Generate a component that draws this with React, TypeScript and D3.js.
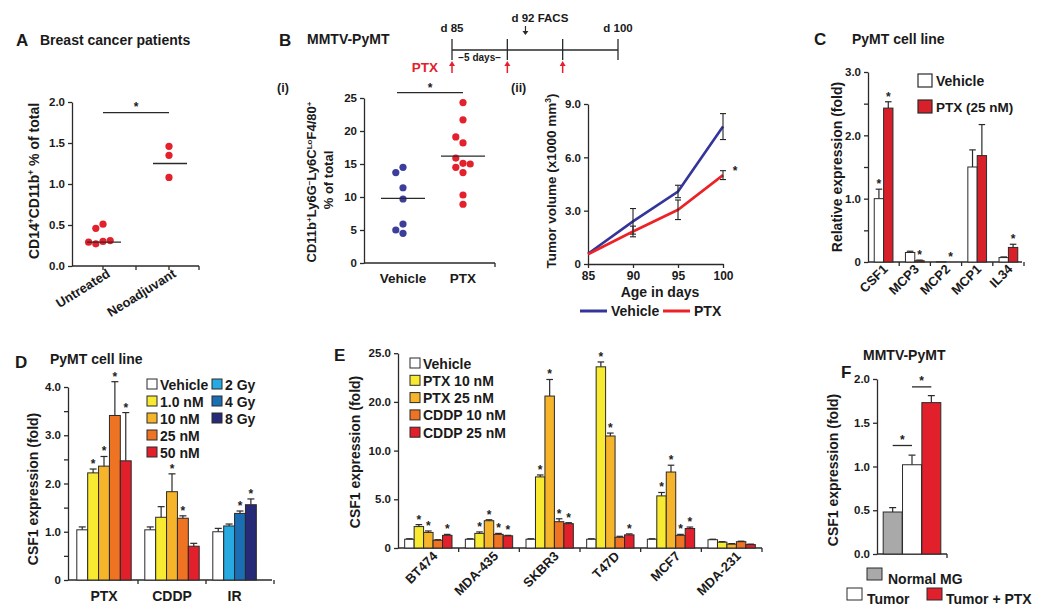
import React, { useEffect, useRef } from "react";
import { scaleLinear, scaleBand, scalePoint, select, axisLeft, axisBottom, line, range } from "d3";

const FONT = "'Liberation Sans', Arial, Helvetica, sans-serif";
const INK = "#2a2a2a";
const RED = "#e3202b";

// ---- A: breast cancer patients
const groupsA = ["Untreated", "Neoadjuvant"];
const untreatedA = [0.51, 0.46, 0.3, 0.27, 0.31, 0.29];
const neoadjuvantA = [1.46, 1.35, 1.08];
const centerLineA = [0.29, 1.25];
const ticksA = [0, 0.5, 1.0, 1.5, 2.0];

// ---- B: MMTV-PyMT
const timelineDays = [85, 90, 95, 100];
const ptxDoseDays = [85, 90, 95];
const facsDay = 92;

const groupsB = ["Vehicle", "PTX"];
const vehicleB = [14.5, 13.7, 11.4, 9.7, 5.9, 4.5, 5.0];
const ptxB = [24.3, 21.7, 18.2, 19.1, 13.7, 15.1, 15.9, 15.0, 14.5, 10.3, 8.9];
const centerLineB = [9.8, 16.2];
const ticksB = [0, 5, 10, 15, 20, 25];

const daysB = [85, 90, 95, 100];
const vehicleVol = [0.58, 2.4, 4.08, 7.73];
const vehicleVolErr = [0.05, 0.72, 0.35, 0.73];
const ptxVol = [0.55, 1.83, 3.05, 5.0];
const ptxVolErr = [0.05, 0.3, 0.55, 0.25];
const ticksVol = [0, 3, 6, 9];

// ---- C: PyMT cell line, cytokines
const genesC = ["CSF1", "MCP3", "MCP2", "MCP1", "IL34"];
const vehicleC = [1.0, 0.15, 0.005, 1.5, 0.07];
const vehicleErrC = [0.15, 0.02, 0, 0.27, 0.01];
const ptxC = [2.43, 0.02, 0.0, 1.68, 0.23];
const ptxErrC = [0.1, 0.01, 0, 0.49, 0.05];
const vehicleStarC = [true, false, false, false, false];
const ptxStarC = [true, true, true, false, true];
const ticksC = [0, 0.5, 1, 1.5, 2, 2.5, 3];
const tickLabelsC = ["0", "", "1.0", "", "2.0", "", "3.0"];

// ---- D: PyMT cell line, treatments
const groupsD = ["PTX", "CDDP", "IR"];
const doseD = ["Vehicle", "1.0 nM", "10 nM", "25 nM", "50 nM"];
const doseIR = ["Vehicle", "2 Gy", "4 Gy", "8 Gy"];
const ptxD = [1.04, 2.22, 2.36, 3.41, 2.47];
const ptxErrD = [0.06, 0.08, 0.2, 0.7, 1.0];
const ptxStarD = [false, true, true, true, true];
const cddpD = [1.04, 1.3, 1.83, 1.28, 0.7];
const cddpErrD = [0.06, 0.22, 0.37, 0.05, 0.06];
const cddpStarD = [false, false, true, true, false];
const irD = [1.0, 1.12, 1.38, 1.56];
const irErrD = [0.07, 0.04, 0.05, 0.12];
const irStarD = [false, false, true, true];
const colorsD: Record<string, string> = {
  Vehicle: "#ffffff",
  "1.0 nM": "#f8ea30",
  "10 nM": "#f6b42a",
  "25 nM": "#ee7322",
  "50 nM": "#e1202c",
  "2 Gy": "#27a9e1",
  "4 Gy": "#1b6db4",
  "8 Gy": "#262a77",
};
const ticksD = [0, 0.5, 1, 1.5, 2, 2.5, 3, 3.5, 4];
const tickLabelsD = ["0", "", "1.0", "", "2.0", "", "3.0", "", "4.0"];

// ---- E: human cell lines
const cellLinesE = ["BT474", "MDA-435", "SKBR3", "T47D", "MCF7", "MDA-231"];
const seriesE = ["Vehicle", "PTX 10 nM", "PTX 25 nM", "CDDP 10 nM", "CDDP 25 nM"];
const vehicleE = [0.9, 0.9, 0.9, 0.9, 0.9, 0.85];
const ptx10E = [2.2, 1.5, 7.3, 23.6, 5.35, 0.6];
const ptx25E = [1.6, 2.8, 20.6, 13.0, 7.8, 0.4];
const cddp10E = [0.8, 1.4, 2.7, 1.1, 1.3, 0.65];
const cddp25E = [1.3, 1.25, 2.5, 1.35, 2.0, 0.35];
const vehicleErrE = [0.05, 0.05, 0.05, 0.05, 0.05, 0.05];
const ptx10ErrE = [0.2, 0.15, 0.2, 0.5, 0.35, 0.05];
const ptx25ErrE = [0.15, 0.1, 1.7, 0.6, 0.7, 0.05];
const cddp10ErrE = [0.05, 0.1, 0.3, 0.1, 0.1, 0.05];
const cddp25ErrE = [0.1, 0.05, 0.1, 0.1, 0.15, 0.05];
const ptx10StarE = [true, true, true, true, true, false];
const ptx25StarE = [true, true, true, true, true, false];
const cddp10StarE = [false, true, true, false, true, false];
const cddp25StarE = [true, true, true, true, true, false];
const colorsE = ["#ffffff", "#f8ea30", "#f6b42a", "#ee7322", "#e1202c"];
const ticksE = [0, 5, 10, 20, 25];
const tickLabelsE = ["0", "5.0", "10.0", "20.0", "25.0"];

// ---- F: MMTV-PyMT tissue
const groupsF = ["Normal MG", "Tumor", "Tumor + PTX"];
const valuesF = [0.48, 1.02, 1.73];
const errF = [0.05, 0.11, 0.08];
const colorsF = ["#a9a9a9", "#ffffff", "#e1202c"];
const sigPairsF = [[0, 1], [1, 2]];
const sigLevelF = [1.24, 1.91];
const ticksF = [0, 0.5, 1, 1.5, 2];

// spread points of a dot plot sideways so they don't overlap
function dodge(values: number[], y: (v: number) => number, r: number) {
  const placed: number[][] = [];
  return values.map((v) => {
    const py = y(v);
    for (const k of [0, -1, 1, -2, 2, -3, 3]) {
      const px = k * 2 * r;
      if (placed.every((p) => Math.hypot(p[0] - px, p[1] - py) >= 2 * r - 0.5)) {
        placed.push([px, py]);
        return px;
      }
    }
    return 0;
  });
}

function YAxis({ scale, x, ticks, labels, size = 11.5 }: any) {
  const ref = useRef<SVGGElement>(null);
  useEffect(() => {
    const axis = axisLeft(scale)
      .tickValues(ticks)
      .tickFormat((d: any, i: number) => (labels ? labels[i] : String(d)))
      .tickSize(4)
      .tickSizeOuter(0)
      .tickPadding(3);
    const g = select(ref.current);
    g.call(axis as any);
    g.attr("font-family", FONT).attr("font-size", size).attr("font-weight", "bold");
    g.selectAll("path, line").attr("stroke", INK).attr("stroke-width", 1.3);
    g.selectAll("text").attr("fill", "#1a1a1a");
  });
  return <g ref={ref} transform={`translate(${x},0)`} />;
}

function XAxisLinear({ scale, y, ticks, size = 12 }: any) {
  const ref = useRef<SVGGElement>(null);
  useEffect(() => {
    const axis = axisBottom(scale).tickValues(ticks).tickSize(4).tickSizeOuter(0).tickPadding(3);
    const g = select(ref.current);
    g.call(axis as any);
    g.attr("font-family", FONT).attr("font-size", size).attr("font-weight", "bold");
    g.selectAll("path, line").attr("stroke", INK).attr("stroke-width", 1.3);
    g.selectAll("text").attr("fill", "#1a1a1a");
  });
  return <g ref={ref} transform={`translate(0,${y})`} />;
}

function BaseLine({ x0, x1, y, ticks }: any) {
  return (
    <g stroke={INK} strokeWidth={1.3}>
      <line x1={x0} x2={x1} y1={y} y2={y} />
      {ticks.map((t: number, i: number) => (
        <line key={i} x1={t} x2={t} y1={y} y2={y + 4} />
      ))}
    </g>
  );
}

function YLabel({ x, y, children, size = 14 }: any) {
  return (
    <text transform={`translate(${x},${y}) rotate(-90)`} textAnchor="middle" fontSize={size} fontWeight="bold" fill="#1a1a1a">
      {children}
    </text>
  );
}

function Bar({ x, w, y, v, err, star, fill }: any) {
  const top = y(v);
  const base = y(0);
  const errTop = y(v + err);
  const cx = x + w / 2;
  const cap = Math.min(3.5, w * 0.35);
  return (
    <g>
      <rect x={x} y={top} width={w} height={Math.max(0, base - top)} fill={fill} stroke={INK} strokeWidth={1} />
      {err > 0 && (
        <g stroke={INK} strokeWidth={1.2}>
          <line x1={cx} x2={cx} y1={top} y2={errTop} />
          <line x1={cx - cap} x2={cx + cap} y1={errTop} y2={errTop} />
        </g>
      )}
      {star && (
        <text x={cx} y={errTop - 1} textAnchor="middle" fontSize={12} fontWeight="bold" fill="#222">
          *
        </text>
      )}
    </g>
  );
}

function PanelA() {
  const y = scaleLinear([0, 2], [266, 102]);
  const x = scalePoint(groupsA, [103, 169]);
  const sets = [untreatedA, neoadjuvantA];
  const mid = ((x(groupsA[0]) as number) + (x(groupsA[1]) as number)) / 2;
  return (
    <g>
      <text x={16} y={46} fontSize={17} fontWeight="bold">A</text>
      <text x={40} y={45} fontSize={14} fontWeight="bold">Breast cancer patients</text>
      <YAxis scale={y} x={72} ticks={ticksA} labels={ticksA.map((t) => t.toFixed(1))} />
      <BaseLine x0={72} x1={199} y={266} ticks={[x(groupsA[0]), mid, x(groupsA[1]), 199]} />
      {sets.map((vals, gi) => {
        const cx = x(groupsA[gi]) as number;
        const off = dodge(vals, y, 3.6);
        return (
          <g key={gi}>
            {vals.map((v, i) => (
              <circle key={i} cx={cx + off[i]} cy={y(v)} r={3.6} fill={RED} />
            ))}
            <line x1={cx - 16} x2={cx + 18} y1={y(centerLineA[gi])} y2={y(centerLineA[gi])} stroke={INK} strokeWidth={1.3} />
          </g>
        );
      })}
      <line x1={x(groupsA[0])} x2={x(groupsA[1])} y1={y(1.87)} y2={y(1.87)} stroke={INK} strokeWidth={1.3} />
      <text x={mid} y={y(1.87) - 2} textAnchor="middle" fontSize={12} fontWeight="bold">*</text>
      {groupsA.map((g) => (
        <text key={g} transform={`translate(${(x(g) as number) + 8},${276}) rotate(-32)`} textAnchor="end" fontSize={13} fontWeight="bold">
          {g}
        </text>
      ))}
      <YLabel x={39} y={181}>
        CD14<tspan baselineShift="super" fontSize={8.5}>+</tspan>CD11b<tspan baselineShift="super" fontSize={8.5}>+</tspan> % of total
      </YLabel>
    </g>
  );
}

function Timeline() {
  const tl = scaleLinear([85, 100], [452, 618]);
  return (
    <g>
      <text x={279} y={46} fontSize={17} fontWeight="bold">B</text>
      <text x={307} y={44} fontSize={14} fontWeight="bold">MMTV-PyMT</text>
      <g stroke={INK} strokeWidth={1.3}>
        <line x1={tl(85)} x2={tl(100)} y1={50} y2={50} />
        {timelineDays.map((d) => (
          <line key={d} x1={tl(d)} x2={tl(d)} y1={39} y2={60} />
        ))}
      </g>
      <text x={tl(85)} y={32} textAnchor="middle" fontSize={11.5} fontWeight="bold">d 85</text>
      <text x={tl(100)} y={32} textAnchor="middle" fontSize={11.5} fontWeight="bold">d 100</text>
      <text x={tl(facsDay) - 18} y={22} fontSize={11.5} fontWeight="bold">d 92 FACS</text>
      <line x1={tl(facsDay) - 4} x2={tl(facsDay) - 4} y1={26} y2={34} stroke={INK} strokeWidth={1.2} />
      <path d={`M${tl(facsDay) - 7},31 L${tl(facsDay) - 1},31 L${tl(facsDay) - 4},35 Z`} fill={INK} />
      <text x={tl(87.5)} y={61} textAnchor="middle" fontSize={10} fontWeight="bold">−5 days−</text>
      <text x={438} y={72} textAnchor="end" fontSize={13.5} fontWeight="bold" fill={RED}>PTX</text>
      {ptxDoseDays.map((d) => (
        <g key={d}>
          <line x1={tl(d)} x2={tl(d)} y1={65} y2={73} stroke={RED} strokeWidth={1.5} />
          <path d={`M${tl(d) - 3},66 L${tl(d) + 3},66 L${tl(d)},61 Z`} fill={RED} />
        </g>
      ))}
    </g>
  );
}

function PanelBi() {
  const y = scaleLinear([0, 25], [263, 98]);
  const x = scalePoint(groupsB, [403, 463]);
  const sets = [vehicleB, ptxB];
  const colors = ["#3d3d9c", RED];
  return (
    <g>
      <text x={277} y={92} fontSize={12.5} fontWeight="bold">(i)</text>
      <YAxis scale={y} x={364} ticks={ticksB} />
      <BaseLine x0={364} x1={495} y={263} ticks={[495]} />
      {sets.map((vals, gi) => {
        const cx = x(groupsB[gi]) as number;
        const off = dodge(vals, y, 3.6);
        return (
          <g key={gi}>
            {vals.map((v, i) => (
              <circle key={i} cx={cx + off[i]} cy={y(v)} r={3.6} fill={colors[gi]} />
            ))}
            <line x1={cx - 22} x2={cx + 22} y1={y(centerLineB[gi])} y2={y(centerLineB[gi])} stroke={INK} strokeWidth={1.3} />
          </g>
        );
      })}
      <line x1={397} x2={x("PTX")} y1={y(25.8)} y2={y(25.8)} stroke={INK} strokeWidth={1.3} />
      <text x={430} y={y(25.8) - 1} textAnchor="middle" fontSize={12} fontWeight="bold">*</text>
      {groupsB.map((g) => (
        <text key={g} x={x(g)} y={283} textAnchor="middle" fontSize={13.5} fontWeight="bold">{g}</text>
      ))}
      <YLabel x={316} y={182} size={13}>
        CD11b<tspan baselineShift="super" fontSize={8}>+</tspan>Ly6G<tspan baselineShift="super" fontSize={8}>−</tspan>Ly6C<tspan baselineShift="super" fontSize={8}>Lo</tspan>F4/80<tspan baselineShift="super" fontSize={8}>+</tspan>
      </YLabel>
      <YLabel x={333} y={180} size={13}>% of total</YLabel>
    </g>
  );
}

function PanelBii() {
  const y = scaleLinear([0, 9], [264, 104]);
  const x = scaleLinear([85, 100], [588, 723]);
  const mk = line<number>().x((_, i) => x(daysB[i])).y((d) => y(d));
  const series = [
    { vals: vehicleVol, errs: vehicleVolErr, color: "#34359a" },
    { vals: ptxVol, errs: ptxVolErr, color: "#ec2227" },
  ];
  return (
    <g>
      <text x={511} y={92} fontSize={12.5} fontWeight="bold">(ii)</text>
      <YAxis scale={y} x={588} ticks={ticksVol} labels={["0", "3.0", "6.0", "9.0"]} />
      <XAxisLinear scale={x} y={264} ticks={daysB} />
      {series.map((s, si) => (
        <g key={si}>
          <path d={mk(s.vals) as string} fill="none" stroke={s.color} strokeWidth={2.6} />
          {s.vals.map((v, i) =>
            s.errs[i] > 0.1 ? (
              <g key={i} stroke="#222" strokeWidth={1.1}>
                <line x1={x(daysB[i])} x2={x(daysB[i])} y1={y(v - s.errs[i])} y2={y(v + s.errs[i])} />
                <line x1={x(daysB[i]) - 3} x2={x(daysB[i]) + 3} y1={y(v - s.errs[i])} y2={y(v - s.errs[i])} />
                <line x1={x(daysB[i]) - 3} x2={x(daysB[i]) + 3} y1={y(v + s.errs[i])} y2={y(v + s.errs[i])} />
              </g>
            ) : null
          )}
        </g>
      ))}
      <text x={735} y={175} textAnchor="middle" fontSize={12} fontWeight="bold">*</text>
      <text x={660} y={297} textAnchor="middle" fontSize={14} fontWeight="bold">Age in days</text>
      <YLabel x={556} y={181} size={13.5}>
        Tumor volume (x1000 mm<tspan baselineShift="super" fontSize={8.5}>3</tspan>)
      </YLabel>
      <line x1={580} x2={607} y1={311} y2={311} stroke="#34359a" strokeWidth={3} />
      <text x={611} y={316} fontSize={14} fontWeight="bold">Vehicle</text>
      <line x1={663} x2={690} y1={311} y2={311} stroke="#ec2227" strokeWidth={3} />
      <text x={694} y={316} fontSize={14} fontWeight="bold">PTX</text>
    </g>
  );
}

function PanelC() {
  const y = scaleLinear([0, 3], [262, 72]);
  const x = scaleBand(genesC, [868, 1024]).paddingInner(0.4).paddingOuter(0.2);
  const sub = scaleBand(["Vehicle", "PTX"], [0, x.bandwidth()]);
  const w = sub.bandwidth();
  return (
    <g>
      <text x={814} y={45} fontSize={17} fontWeight="bold">C</text>
      <text x={852} y={44} fontSize={14} fontWeight="bold">PyMT cell line</text>
      <YAxis scale={y} x={868} ticks={ticksC} labels={tickLabelsC} />
      <BaseLine x0={868} x1={1022} y={262} ticks={genesC.map((g) => (x(g) as number) + x.bandwidth() + x.step() * 0.2)} />
      {genesC.map((g, i) => (
        <g key={g}>
          <Bar x={(x(g) as number) + (sub("Vehicle") as number)} w={w} y={y} v={vehicleC[i]} err={vehicleErrC[i]} star={vehicleStarC[i]} fill="#ffffff" />
          <Bar x={(x(g) as number) + (sub("PTX") as number)} w={w} y={y} v={ptxC[i]} err={ptxErrC[i]} star={ptxStarC[i]} fill="#d8202b" />
          <text transform={`translate(${(x(g) as number) + x.bandwidth() / 2 + 5},${270}) rotate(-45)`} textAnchor="end" fontSize={13} fontWeight="bold">
            {g}
          </text>
        </g>
      ))}
      <rect x={918} y={74} width={14} height={13} fill="#ffffff" stroke={INK} strokeWidth={1.2} />
      <text x={936} y={86} fontSize={14} fontWeight="bold">Vehicle</text>
      <rect x={918} y={100} width={14} height={13} fill="#d8202b" stroke={INK} strokeWidth={1.2} />
      <text x={936} y={112} fontSize={13.5} fontWeight="bold">PTX (25 nM)</text>
      <YLabel x={842} y={167}>Relative expression (fold)</YLabel>
    </g>
  );
}

function PanelD() {
  const y = scaleLinear([0, 4], [580, 387]);
  const x = scaleBand(groupsD, [70, 274]).paddingInner(0.2).paddingOuter(0.1);
  const slot = scaleBand(range(5), [0, x.bandwidth()]);
  const w = slot.bandwidth();
  const groups = [
    { keys: doseD, vals: ptxD, errs: ptxErrD, stars: ptxStarD },
    { keys: doseD, vals: cddpD, errs: cddpErrD, stars: cddpStarD },
    { keys: doseIR, vals: irD, errs: irErrD, stars: irStarD },
  ];
  const legendLeft = doseD;
  const legendRight = doseIR.slice(1);
  return (
    <g>
      <text x={15} y={368} fontSize={17} fontWeight="bold">D</text>
      <text x={50} y={364} fontSize={14} fontWeight="bold">PyMT cell line</text>
      <YAxis scale={y} x={68} ticks={ticksD} labels={tickLabelsD} />
      <BaseLine x0={68} x1={272} y={580} ticks={groupsD.map((g) => (x(g) as number) + x.bandwidth() + x.step() * 0.1)} />
      {groupsD.map((g, gi) => {
        const grp = groups[gi];
        return (
          <g key={g}>
            {grp.keys.map((k, i) => (
              <Bar key={k} x={(x(g) as number) + (slot(i) as number)} w={w} y={y} v={grp.vals[i]} err={grp.errs[i]} star={grp.stars[i]} fill={colorsD[k]} />
            ))}
            <text x={(x(g) as number) + (grp.keys.length * w) / 2} y={601} textAnchor="middle" fontSize={14} fontWeight="bold">
              {g}
            </text>
          </g>
        );
      })}
      {legendLeft.map((k, i) => (
        <g key={k}>
          <rect x={147} y={379 + i * 17} width={10} height={10} fill={colorsD[k]} stroke={INK} strokeWidth={1} />
          <text x={160} y={389.5 + i * 17} fontSize={14} fontWeight="bold">{k}</text>
        </g>
      ))}
      {legendRight.map((k, i) => (
        <g key={k}>
          <rect x={212} y={379 + i * 17} width={10} height={10} fill={colorsD[k]} stroke={INK} strokeWidth={1} />
          <text x={225} y={389.5 + i * 17} fontSize={14} fontWeight="bold">{k}</text>
        </g>
      ))}
      <YLabel x={38} y={489}>CSF1 expression (fold)</YLabel>
    </g>
  );
}

function PanelE() {
  const y = scaleLinear().domain(ticksE).range(ticksE.map((_, i) => 548 - i * 48.7));
  const x = scaleBand(cellLinesE, [398, 762]).paddingInner(0.22).paddingOuter(0.11);
  const slot = scaleBand(seriesE, [0, x.bandwidth()]);
  const w = slot.bandwidth();
  const vals = [vehicleE, ptx10E, ptx25E, cddp10E, cddp25E];
  const errs = [vehicleErrE, ptx10ErrE, ptx25ErrE, cddp10ErrE, cddp25ErrE];
  const noStar = cellLinesE.map(() => false);
  const stars = [noStar, ptx10StarE, ptx25StarE, cddp10StarE, cddp25StarE];
  return (
    <g>
      <text x={334} y={361} fontSize={17} fontWeight="bold">E</text>
      <YAxis scale={y} x={398} ticks={ticksE} labels={tickLabelsE} />
      <BaseLine x0={398} x1={762} y={548} ticks={cellLinesE.map((c) => (x(c) as number) + x.bandwidth() + x.step() * 0.11)} />
      {cellLinesE.map((c, ci) => (
        <g key={c}>
          {seriesE.map((s, si) => (
            <Bar key={s} x={(x(c) as number) + (slot(s) as number)} w={w} y={y} v={vals[si][ci]} err={errs[si][ci]} star={stars[si][ci]} fill={colorsE[si]} />
          ))}
          <text transform={`translate(${(x(c) as number) + x.bandwidth() / 2 + 10},${557}) rotate(-45)`} textAnchor="end" fontSize={13} fontWeight="bold">
            {c}
          </text>
        </g>
      ))}
      {seriesE.map((s, i) => (
        <g key={s}>
          <rect x={410} y={358 + i * 17.3} width={10} height={10} fill={colorsE[i]} stroke={INK} strokeWidth={1} />
          <text x={423} y={368.5 + i * 17.3} fontSize={14} fontWeight="bold">{s}</text>
        </g>
      ))}
      <YLabel x={360} y={452}>CSF1 expression (fold)</YLabel>
    </g>
  );
}

function PanelF() {
  const y = scaleLinear([0, 2], [554, 379]);
  const x = scaleBand(groupsF, [877, 947]).paddingInner(0.02).paddingOuter(0.32);
  const w = x.bandwidth();
  const cx = (i: number) => (x(groupsF[i]) as number) + w / 2;
  return (
    <g>
      <text x={841} y={378} fontSize={17} fontWeight="bold">F</text>
      <text x={863} y={360} fontSize={14} fontWeight="bold">MMTV-PyMT</text>
      <YAxis scale={y} x={877} ticks={ticksF} labels={ticksF.map((t) => t.toFixed(1))} />
      <BaseLine x0={877} x1={947} y={554} ticks={[947]} />
      {groupsF.map((g, i) => (
        <Bar key={g} x={x(g)} w={w} y={y} v={valuesF[i]} err={errF[i]} star={false} fill={colorsF[i]} />
      ))}
      {sigPairsF.map(([a, b], i) => (
        <g key={i}>
          <line x1={cx(a)} x2={cx(b)} y1={y(sigLevelF[i])} y2={y(sigLevelF[i])} stroke={INK} strokeWidth={1.3} />
          <text x={(cx(a) + cx(b)) / 2} y={y(sigLevelF[i]) - 2} textAnchor="middle" fontSize={12} fontWeight="bold">*</text>
        </g>
      ))}
      <rect x={867} y={568} width={15} height={12} fill={colorsF[0]} stroke={INK} strokeWidth={1} />
      <text x={888} y={584} fontSize={14} fontWeight="bold">{groupsF[0]}</text>
      <rect x={847} y={588} width={15} height={12} fill={colorsF[1]} stroke={INK} strokeWidth={1} />
      <text x={867} y={604} fontSize={14} fontWeight="bold">{groupsF[1]}</text>
      <rect x={927} y={588} width={15} height={12} fill={colorsF[2]} stroke={INK} strokeWidth={1} />
      <text x={946} y={604} fontSize={14} fontWeight="bold">{groupsF[2]}</text>
      <YLabel x={838} y={470}>CSF1 expression (fold)</YLabel>
    </g>
  );
}

export default function App() {
  return (
    <svg
      width={1050}
      height={612}
      style={{ position: "absolute", left: 0, top: 0, background: "#ffffff" }}
      fontFamily={FONT}
      fill="#1a1a1a"
    >
      <PanelA />
      <Timeline />
      <PanelBi />
      <PanelBii />
      <PanelC />
      <PanelD />
      <PanelE />
      <PanelF />
    </svg>
  );
}
